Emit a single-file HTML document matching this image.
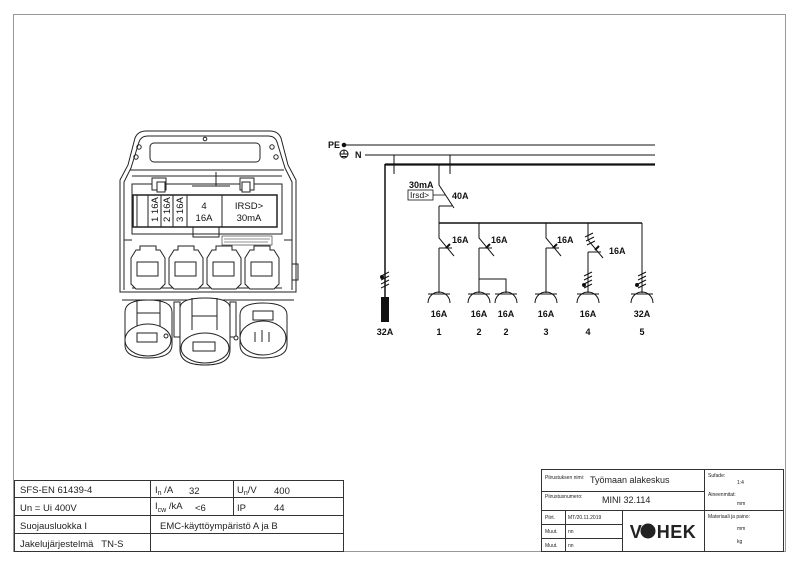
<!DOCTYPE html>
<html><head><meta charset="utf-8"><style>
html,body{margin:0;padding:0;background:#fff;}
svg{display:block;font-family:"Liberation Sans",sans-serif;}
</style></head><body>
<svg width="800" height="565" viewBox="0 0 800 565" xmlns="http://www.w3.org/2000/svg">
<rect x="13.5" y="14.5" width="772" height="537" fill="none" stroke="#999" stroke-width="1"/>

<!-- Enclosure drawing -->
<g fill="none" stroke="#222" stroke-width="1">
<path d="M120,292 L120,180 L128,165 L135,138 Q138,131 146,131 L270,131 Q278,131 281,138 L288,165 L296,180 L296,292 Z" fill="#fff"/>
<path d="M124,290 L124,182 L131,168 L139,142 Q141,136 148,136 L268,136 Q275,136 277,142 L285,168 L292,182 L292,290"/>
<rect x="150" y="143" width="110" height="19" rx="4"/>
<circle cx="205" cy="139" r="1.8"/>
<circle cx="139" cy="147" r="2.2"/><circle cx="136" cy="157" r="2.2"/>
<circle cx="272" cy="147" r="2.2"/><circle cx="276" cy="157" r="2.2"/>
<path d="M130,170 L284,170 M132,176 L282,176"/>
<rect x="132" y="184" width="150" height="50"/>
<rect x="152" y="178" width="14" height="12" fill="#fff"/><rect x="157" y="182" width="8" height="10" fill="#fff"/>
<rect x="240" y="178" width="14" height="12" fill="#fff"/><rect x="242" y="182" width="8" height="10" fill="#fff"/>
<path d="M216,172 L216,186 M192,186 L230,186"/>
<rect x="133" y="195" width="144" height="32" stroke-width="1.5"/>
<path d="M137,195 L137,227 M148,195 L148,227 M161,195 L161,227 M173,195 L173,227 M187,195 L187,227 M222,195 L222,227"/>
<rect x="193" y="227" width="26" height="10"/>
<rect x="222" y="236" width="50" height="9" stroke-width="0.6"/>
<path d="M224,239 H270 M224,242 H268" stroke-width="0.5"/>
<path d="M124,240 L132,240 M284,240 L292,240"/>
<path d="M132,288 L282,288 M124,292 L292,292 M122,300 L294,300"/>
<path d="M292,264 L298,264 L298,280 L292,280"/>
</g>
<g fill="#fff" stroke="#222" stroke-width="1">
<path d="M131,258 L136,250 L140,250 L140,246 L156,246 L156,250 L160,250 L165,258 L165,284 L160,289 L136,289 L131,284 Z"/>
<rect x="137" y="262" width="21" height="14"/>
<path d="M169,258 L174,250 L178,250 L178,246 L194,246 L194,250 L198,250 L203,258 L203,284 L198,289 L174,289 L169,284 Z"/>
<rect x="175" y="262" width="21" height="14"/>
<path d="M207,258 L212,250 L216,250 L216,246 L232,246 L232,250 L236,250 L241,258 L241,284 L236,289 L212,289 L207,284 Z"/>
<rect x="213" y="262" width="21" height="14"/>
<path d="M245,258 L250,250 L254,250 L254,246 L270,246 L270,250 L274,250 L279,258 L279,284 L274,289 L250,289 L245,284 Z"/>
<rect x="251" y="262" width="21" height="14"/>
<!-- bottom plugs -->
<path d="M125,312 Q125,300 148,300 Q172,300 172,312 L172,345 Q172,358 148,358 Q125,358 125,345 Z"/>
<ellipse cx="148" cy="340" rx="23" ry="16"/>
<rect x="137" y="333" width="20" height="9"/>
<path d="M137,300 L137,326 M160,300 L160,326 M137,313 L160,313"/>
<path d="M180,308 Q180,298 205,298 Q230,298 230,308 L230,350 Q230,365 205,365 Q180,365 180,350 Z"/>
<ellipse cx="205" cy="348" rx="24" ry="15"/>
<rect x="193" y="342" width="22" height="9"/>
<path d="M192,298 L192,330 M217,298 L217,330 M192,316 L217,316"/>
<path d="M240,315 Q240,303 263,303 Q287,303 287,315 L287,345 Q287,358 263,358 Q240,358 240,345 Z"/>
<ellipse cx="263" cy="338" rx="23" ry="17"/>
<rect x="253" y="311" width="20" height="9"/>
<path d="M255,332 L255,342 M262,330 L262,342 M269,332 L269,342"/>
<rect x="174" y="302" width="6" height="35"/><rect x="230" y="302" width="6" height="35"/>
<circle cx="166" cy="336" r="2"/><circle cx="236" cy="338" r="2"/>
</g>
<g font-size="9.5" fill="#111">
<text transform="translate(158,222) rotate(-90)">1 16A</text>
<text transform="translate(170,222) rotate(-90)">2 16A</text>
<text transform="translate(183,222) rotate(-90)">3 16A</text>
<text x="204" y="209" text-anchor="middle">4</text>
<text x="204" y="221" text-anchor="middle">16A</text>
<text x="249" y="209" text-anchor="middle">IRSD&gt;</text>
<text x="249" y="221" text-anchor="middle">30mA</text>
</g>

<!-- Schematic -->
<g stroke="#111" fill="none" stroke-width="1">
<line x1="344" y1="145" x2="655" y2="145"/>
<line x1="365" y1="155" x2="655" y2="155"/>
<line x1="385" y1="164.5" x2="655" y2="164.5" stroke-width="2.2"/>
<line x1="385" y1="164" x2="385" y2="298" stroke-width="1.5"/>
<line x1="394" y1="155" x2="394" y2="174"/>
<line x1="450" y1="155" x2="450" y2="174"/>
<circle cx="344" cy="145" r="1.8" fill="#111"/>
<circle cx="344" cy="154" r="4"/>
<path d="M340,154 H348 M341.5,156.5 H346.5 M344,150 V154"/>
<!-- RCD -->
<path d="M439,164 V185 L454,208 M439,206 H452 M439,206 V223"/>
<rect x="408" y="190" width="25" height="10" stroke-width="0.8"/>
<line x1="433" y1="195" x2="446" y2="195" stroke-width="0.8"/>
<line x1="439" y1="223" x2="642" y2="223" stroke-width="1.5"/>
<!-- branches -->
<path d="M439,223 V238 L454,256 M439,248 H452 M439,248 V293"/>
<path d="M479,223 V238 L494,256 M479,248 H492 M479,248 V293 M479,279 H506 V293"/>
<path d="M546,223 V238 L561,256 M546,248 H559 M546,248 V293"/>
<path d="M588,223 V240 L603,258 M588,252 H601 M588,252 V293"/>
<path d="M642,223 V293"/>
<!-- sockets -->
<path d="M428,303 A11,11 0 0 1 450,303 M428,294 H450"/>
<path d="M468,303 A11,11 0 0 1 490,303 M468,294 H490"/>
<path d="M495,303 A11,11 0 0 1 517,303 M495,294 H517"/>
<path d="M535,303 A11,11 0 0 1 557,303 M535,294 H557"/>
<path d="M577,303 A11,11 0 0 1 599,303 M577,294 H599"/>
<path d="M631,303 A11,11 0 0 1 653,303 M631,294 H653"/>
<!-- ticks -->
<path d="M381,276 L389,272 M381,280 L389,276 M381,284 L389,280 M381,288 L389,284" />
<path d="M584,276 L592,272 M584,280 L592,276 M584,284 L592,280 M584,288 L592,284"/>
<path d="M638,276 L646,272 M638,280 L646,276 M638,284 L646,280 M638,288 L646,284"/>
<path d="M585,237 L593,233 M586,241 L594,237 M587,245 L595,241"/>
<path d="M446,248 l4,-4 M486,248 l4,-4 M553,248 l4,-4 M595,250 l4,-4" stroke-width="2"/>
</g>
<rect x="381" y="297" width="8" height="25" fill="#111"/>
<g fill="#111"><circle cx="382" cy="277" r="2"/><circle cx="584" cy="285" r="2"/><circle cx="637" cy="285" r="2"/></g>
<g font-size="9" font-weight="bold" fill="#111">
<text x="328" y="148">PE</text>
<text x="355" y="158">N</text>
<text x="409" y="188">30mA</text>
<text x="410" y="198" font-size="8.5" font-weight="normal">Irsd&gt;</text>
<text x="452" y="199">40A</text>
<text x="452" y="243">16A</text><text x="491" y="243">16A</text>
<text x="557" y="243">16A</text><text x="609" y="254">16A</text>
<g text-anchor="middle">
<text x="439" y="317">16A</text><text x="479" y="317">16A</text><text x="506" y="317">16A</text>
<text x="546" y="317">16A</text><text x="588" y="317">16A</text><text x="642" y="317">32A</text>
<text x="385" y="335">32A</text>
<text x="439" y="335">1</text><text x="479" y="335">2</text><text x="506" y="335">2</text>
<text x="546" y="335">3</text><text x="588" y="335">4</text><text x="642" y="335">5</text>
</g></g>

<!-- Left table -->
<g stroke="#333" fill="none" stroke-width="1">
<rect x="14.5" y="480.5" width="329" height="71"/>
<path d="M14,497.5 H343 M14,515.5 H343 M14,533.5 H343 M150.5,480 V551 M233.5,480 V515"/>
</g>
<g font-size="9.5" fill="#222">
<text x="20" y="493">SFS-EN 61439-4</text>
<text x="20" y="511">Un = Ui 400V</text>
<text x="20" y="529">Suojausluokka I</text>
<text x="20" y="547">Jakelujärjestelmä&#160;&#160;&#160;TN-S</text>
<text x="155" y="493">I<tspan font-size="7" dy="2">n</tspan><tspan dy="-2"> /A</tspan></text>
<text x="189" y="494">32</text>
<text x="237" y="493">U<tspan font-size="7" dy="2">n</tspan><tspan dy="-2">/V</tspan></text>
<text x="274" y="494">400</text>
<text x="155" y="509">I<tspan font-size="7" dy="3">cw</tspan><tspan dy="-3"> /kA</tspan></text>
<text x="195" y="511">&lt;6</text>
<text x="237" y="511">IP</text><text x="274" y="511">44</text>
<text x="160" y="529">EMC-käyttöympäristö A ja B</text>
</g>

<!-- Right title block -->
<g stroke="#333" fill="none" stroke-width="1">
<rect x="541.5" y="469.5" width="242" height="82"/>
<path d="M541,491.5 H704 M541,510.5 H783 M541,524.5 H622 M541,538.5 H622 M704.5,469 V551 M565.5,510 V551 M622.5,510 V551"/>
</g>
<g fill="#222">
<text x="545" y="479" font-size="5">Piirustuksen nimi:</text>
<text x="590" y="483" font-size="9">Työmaan alakeskus</text>
<text x="545" y="498" font-size="5">Piirustusnumero:</text>
<text x="602" y="503" font-size="9">MINI 32.114</text>
<text x="545" y="519" font-size="5">Piirt.</text>
<text x="568" y="519" font-size="5">MT/20.11.2019</text>
<text x="545" y="533" font-size="5">Muut.</text><text x="568" y="533" font-size="5">nn</text>
<text x="545" y="547" font-size="5">Muut.</text><text x="568" y="547" font-size="5">nn</text>
<text x="708" y="477" font-size="5">Sufade:</text><text x="737" y="484" font-size="5">1:4</text>
<text x="708" y="496" font-size="5">Aineenmitat:</text><text x="737" y="505" font-size="5">mm</text>
<text x="708" y="518" font-size="5">Materiaali ja paino:</text>
<text x="737" y="530" font-size="5">mm</text><text x="737" y="543" font-size="5">kg</text>
<text x="663" y="538" font-size="18" font-weight="bold" text-anchor="middle" letter-spacing="0.5">V<tspan fill="#fff">O</tspan>HEK</text>
<circle cx="648" cy="531" r="7.5" fill="#222"/>
</g>
</svg>
</body></html>
